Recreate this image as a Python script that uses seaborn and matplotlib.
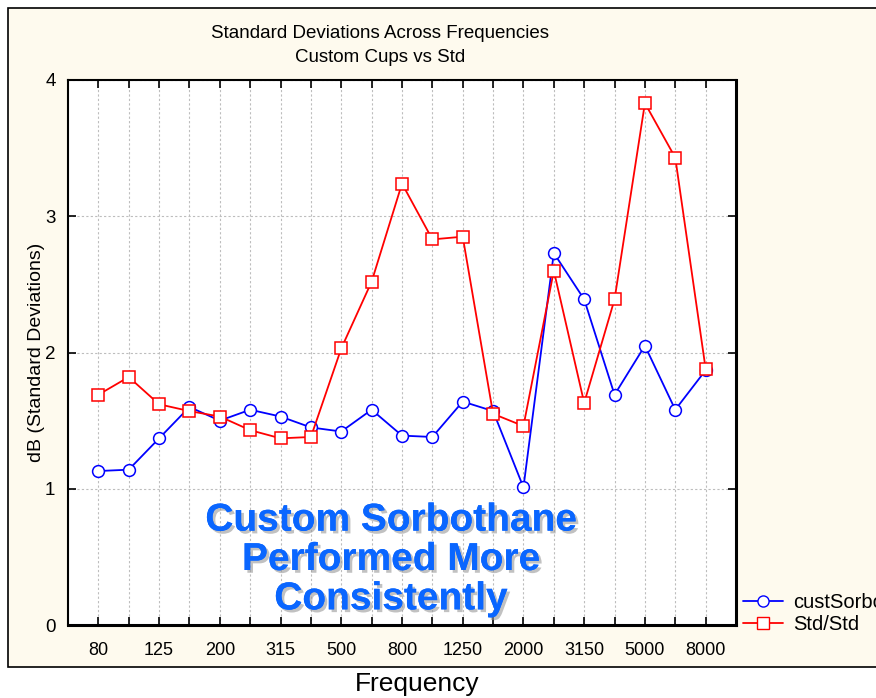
import matplotlib
matplotlib.use("Agg")
import matplotlib.pyplot as plt
import matplotlib.patheffects as pe
from matplotlib.patches import Rectangle
from matplotlib.lines import Line2D
import seaborn as sns
import pandas as pd

frequencies = ["80", "100", "125", "160", "200", "250", "315", "400", "500", "630",
               "800", "1000", "1250", "1600", "2000", "2500", "3150", "4000", "5000",
               "6300", "8000"]
cust_sorbo = [1.13, 1.14, 1.37, 1.60, 1.50, 1.58, 1.53, 1.45, 1.42, 1.58,
              1.39, 1.38, 1.64, 1.57, 1.01, 2.73, 2.39, 1.69, 2.05, 1.58, 1.87]
std_std = [1.69, 1.82, 1.62, 1.57, 1.53, 1.43, 1.37, 1.38, 2.03, 2.52,
           3.24, 2.83, 2.85, 1.55, 1.46, 2.60, 1.63, 2.39, 3.83, 3.43, 1.88]
series_names = ["custSorbothane", "Std/Std"]
yticks = [0, 1, 2, 3, 4]

sns.set_theme(style="white")
plt.rcParams["font.family"] = ["Liberation Sans", "DejaVu Sans"]
plt.rcParams["text.color"] = "black"
plt.rcParams["xtick.color"] = "black"
plt.rcParams["ytick.color"] = "black"
plt.rcParams["axes.labelcolor"] = "black"

W, H = 876, 698
fig = plt.figure(figsize=(W / 100, H / 100), dpi=100, facecolor="white")

# cream panel
panel = Rectangle((8 / W, 1 - 667 / H), 1.2, 659 / H, transform=fig.transFigure,
                  facecolor="#FEFAEE", edgecolor="black", linewidth=1.2, zorder=-10)
fig.patches.append(panel)

ax = fig.add_axes([68 / W, 1 - 625 / H, (736 - 68) / W, (625 - 80) / H])
ax.set_facecolor("white")

idx = list(range(len(frequencies)))
df = pd.DataFrame({"idx": idx, "cust": cust_sorbo, "std": std_std})

blue = "#0000FF"
red = "#FF0000"
sns.lineplot(data=df, x="idx", y="cust", ax=ax, color=blue, marker="o",
             markersize=8.5, markerfacecolor="white", markeredgecolor=blue,
             markeredgewidth=1.1, linewidth=1.3, zorder=3)
sns.lineplot(data=df, x="idx", y="std", ax=ax, color=red, marker="s",
             markersize=8.5, markerfacecolor="white", markeredgecolor=red,
             markeredgewidth=1.1, linewidth=1.3, zorder=3)

ax.set_xlim(-1, len(frequencies))
ax.set_ylim(0, 4)
ax.set_xticks(idx)
ax.set_xticklabels([f if i % 2 == 0 else "" for i, f in enumerate(frequencies)], fontsize=13)
ax.set_yticks(yticks)
ax.set_yticklabels([str(v) for v in yticks], fontsize=13.5)
ax.set_xlabel("")
ax.set_ylabel("dB (Standard Deviations)", fontsize=14, labelpad=0)
ax.tick_params(axis="both", direction="in", length=6, width=1.2, color="black",
               top=True, bottom=True, left=True, right=True)
ax.tick_params(axis="x", pad=12)
ax.tick_params(axis="y", pad=9)
ax.grid(True, color="#BDBDBD", linestyle=(0, (2, 2)), linewidth=0.8)
for s in ax.spines.values():
    s.set_color("black")
    s.set_linewidth(1.5)
ax.spines["right"].set_linewidth(2.2)
ax.spines["bottom"].set_linewidth(2.2)

fig.text(380 / W, 1 - 33 / H, "Standard Deviations Across Frequencies",
         ha="center", va="center", fontsize=13.5)
fig.text(380 / W, 1 - 57 / H, "Custom Cups vs Std",
         ha="center", va="center", fontsize=13.5)
fig.text(417 / W, 1 - 684 / H, "Frequency", ha="center", va="center", fontsize=19)

ax.text(391 / W, 1 - 560 / H, "Custom Sorbothane\nPerformed More\nConsistently",
        transform=fig.transFigure, ha="center", va="center", fontsize=28,
        fontweight="bold", color="#0A66FF", linespacing=1.12, zorder=5,
        path_effects=[pe.withSimplePatchShadow(offset=(2, -2), shadow_rgbFace="#999999", alpha=0.6),
                      pe.Normal()])

handles = [Line2D([], [], color=blue, marker="o", markersize=8, markerfacecolor="white",
                  markeredgecolor=blue, linewidth=1.3),
           Line2D([], [], color=red, marker="s", markersize=8, markerfacecolor="white",
                  markeredgecolor=red, linewidth=1.3)]
fig.legend(handles, series_names, loc="upper left", bbox_to_anchor=(735 / W, 1 - 585 / H),
           frameon=False, fontsize=14.5, handlelength=2.0, handletextpad=0.5,
           labelspacing=0.15, borderaxespad=0)

fig.savefig("out.png", dpi=100, facecolor="white")
